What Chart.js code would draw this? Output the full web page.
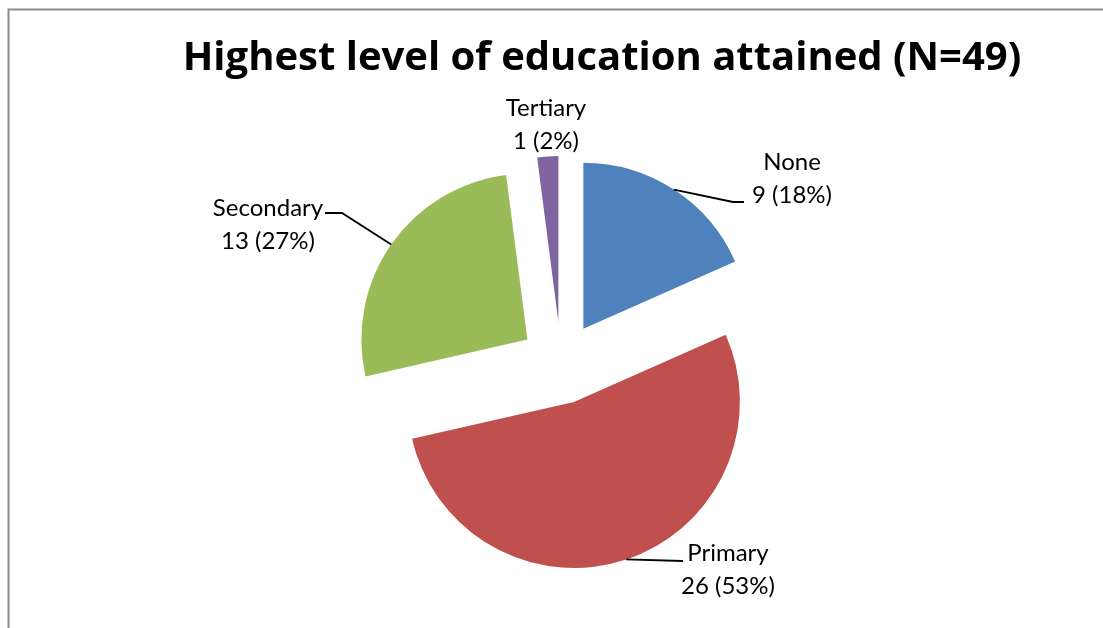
<!DOCTYPE html>
<html>
<head>
<meta charset="utf-8">
<script src="https://cdn.jsdelivr.net/npm/chart.js@4.4.0/dist/chart.umd.min.js"></script>
<style>
  html, body { margin: 0; padding: 0; background: #fff; }
  canvas { display: block; }
</style>
</head>
<body>
<canvas id="educationChart" width="1103" height="628"></canvas>
<script>
const categories = ['None', 'Primary', 'Secondary', 'Tertiary'];
const counts = [9, 26, 13, 1];
const sliceColors = ['#4F81BD', '#C0504D', '#9BBB59', '#8064A2'];
const chartTitle = 'Highest level of education attained (N=49)';

const total = counts.reduce((a, b) => a + b, 0);
const EXPLODE = 41;   // every slice pulled out this far along its bisector
const LINE_GAP = 33;

// label centre (first line) and the bend points of its leader line
const labelSpots = [
  { x: 792, y: 162, leader: [[733, 202], [744, 202]] },
  { x: 728, y: 553, leader: [[683, 561]] },
  { x: 268, y: 208, leader: [[342, 213], [325, 213]] },
  { x: 546, y: 108, leader: null }
];

const explodedPie = {
  id: 'explodedPie',
  beforeDraw(chart) {
    const ctx = chart.ctx;
    ctx.save();
    ctx.strokeStyle = '#8a8a8a';
    ctx.lineWidth = 2;
    ctx.beginPath();
    ctx.moveTo(8.5, chart.height);
    ctx.lineTo(8.5, 9.5);
    ctx.lineTo(chart.width, 9.5);
    ctx.stroke();

    ctx.font = 'bold 40px "Open Sans"';
    ctx.fillStyle = '#000';
    ctx.textAlign = 'center';
    ctx.textBaseline = 'alphabetic';
    ctx.fillText(chartTitle, 602, 70);
    ctx.restore();
  },
  beforeDatasetDraw(chart, args) {
    const ctx = chart.ctx;
    args.meta.data.forEach(arc => {
      const mid = (arc.startAngle + arc.endAngle) / 2;
      ctx.save();
      ctx.translate(Math.cos(mid) * EXPLODE, Math.sin(mid) * EXPLODE);
      arc.draw(ctx);
      ctx.restore();
    });
    return false;
  },
  afterDatasetsDraw(chart) {
    const ctx = chart.ctx;
    const arcs = chart.getDatasetMeta(0).data;
    ctx.save();
    ctx.font = '24px Lato';
    ctx.fillStyle = '#000';
    ctx.strokeStyle = '#000';
    ctx.lineWidth = 1.8;
    ctx.textAlign = 'center';
    ctx.textBaseline = 'middle';
    arcs.forEach((arc, i) => {
      const spot = labelSpots[i];
      if (spot.leader) {
        const mid = (arc.startAngle + arc.endAngle) / 2;
        const r = arc.outerRadius + EXPLODE;
        ctx.beginPath();
        ctx.moveTo(arc.x + Math.cos(mid) * r, arc.y + Math.sin(mid) * r);
        spot.leader.forEach(p => ctx.lineTo(p[0], p[1]));
        ctx.stroke();
      }
      const pct = Math.round(counts[i] / total * 100);
      ctx.fillText(categories[i], spot.x, spot.y);
      ctx.fillText(counts[i] + ' (' + pct + '%)', spot.x, spot.y + LINE_GAP);
    });
    ctx.restore();
  }
};

new Chart(document.getElementById('educationChart'), {
  type: 'pie',
  data: {
    labels: categories,
    datasets: [{
      data: counts,
      backgroundColor: sliceColors,
      borderWidth: 0,
      radius: 166
    }]
  },
  options: {
    responsive: false,
    animation: false,
    layout: { padding: { left: 100, right: 81, top: 110, bottom: 12 } },
    plugins: {
      legend: { display: false },
      tooltip: { enabled: false },
      title: { display: false }
    }
  },
  plugins: [explodedPie]
});
</script>
</body>
</html>
